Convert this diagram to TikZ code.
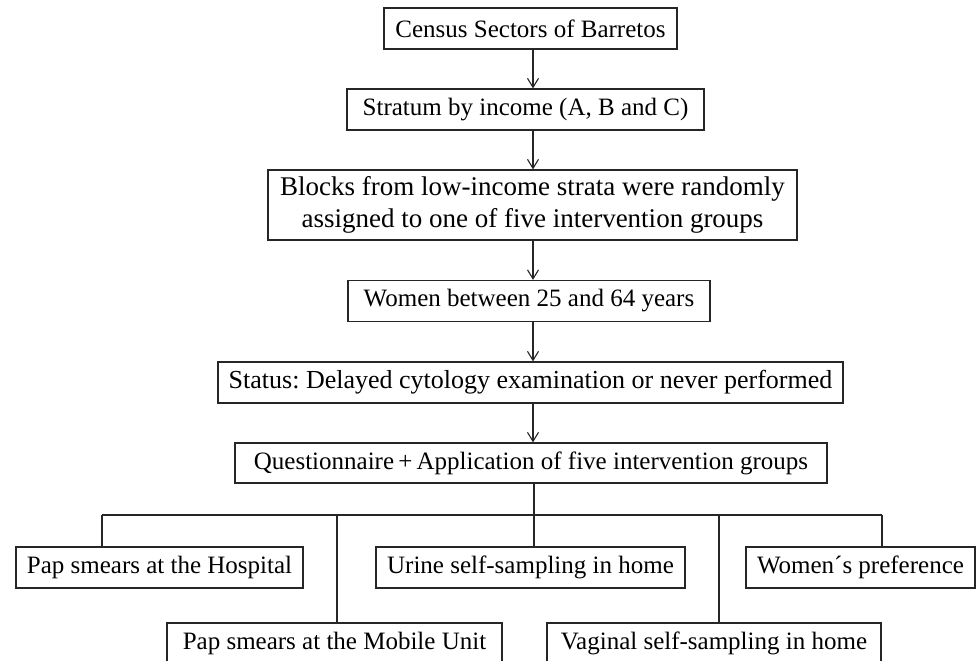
\documentclass[tikz,border=0pt]{standalone}
\usepackage{fontspec}
\setmainfont{Liberation Serif}
\usetikzlibrary{arrows.meta}
\frenchspacing
\begin{document}
\begin{tikzpicture}[x=1pt,y=1pt,
  box/.style={draw=black!85, line width=1.2pt, rectangle, inner sep=0pt,
    font=\fontsize{25}{31}\selectfont, align=center},
  link/.style={draw=black!85, line width=1.1pt},
  arr/.style={link, -{Straight Barb[length=9pt,width=11pt,line width=1.1pt]}}]
\useasboundingbox (0,0) rectangle (977,661);
\fill[white] (0,0) rectangle (977,661);
\node[box, minimum width=293pt, minimum height=41pt] (census) at (530.5,632.5) {Census Sectors of Barretos};
\node[box, minimum width=357pt, minimum height=41pt] (stratum) at (525.5,551.5) {Stratum by income (A, B and C)};
\node[box, minimum width=529pt, minimum height=70pt, font=\fontsize{27}{32}\selectfont] (blocks) at (532.5,456) {Blocks from low-income strata were randomly\\assigned to one of five intervention groups};
\node[box, minimum width=362pt, minimum height=41pt] (women) at (529,360) {Women between 25 and 64 years};
\node[box, minimum width=625pt, minimum height=41pt, font=\fontsize{26}{31}\selectfont] (status) at (530.5,278.5) {Status: Delayed cytology examination or never performed};
\node[box, minimum width=592pt, minimum height=40pt] (quest) at (531,198) {Questionnaire\,+\,Application of five intervention groups};
\node[box, minimum width=287pt, minimum height=41pt] (hosp) at (159.5,93.5) {Pap smears at the Hospital};
\node[box, minimum width=309pt, minimum height=41pt] (urine) at (530.5,93.5) {Urine self-sampling in home};
\node[box, minimum width=229pt, minimum height=41pt] (pref) at (860.5,93.5) {Women´s preference};
\node[box, minimum width=335pt, minimum height=41pt] (mobile) at (334.5,17.5) {Pap smears at the Mobile Unit};
\node[box, minimum width=334pt, minimum height=41pt] (vaginal) at (714,17.5) {Vaginal self-sampling in home};
\coordinate (spine) at (533,0);
\draw[arr] (census.south -| spine) -- (stratum.north -| spine);
\draw[arr] (stratum.south -| spine) -- (blocks.north -| spine);
\draw[arr] (blocks.south -| spine) -- (women.north -| spine);
\draw[arr] (women.south -| spine) -- (status.north -| spine);
\draw[arr] (status.south -| spine) -- (quest.north -| spine);
\coordinate (bus) at (534,146);
\coordinate (busL) at (102,146);
\coordinate (busR) at (882,146);
\coordinate (dMob) at (337,146);
\coordinate (dVag) at (719,146);
\draw[link] (quest.south -| bus) -- (bus);
\draw[link] (busL) -- (busR);
\draw[link] (busL) -- (hosp.north -| busL);
\draw[link] (dMob) -- (mobile.north -| dMob);
\draw[link] (bus) -- (urine.north -| bus);
\draw[link] (dVag) -- (vaginal.north -| dVag);
\draw[link] (busR) -- (pref.north -| busR);
\end{tikzpicture}
\end{document}
